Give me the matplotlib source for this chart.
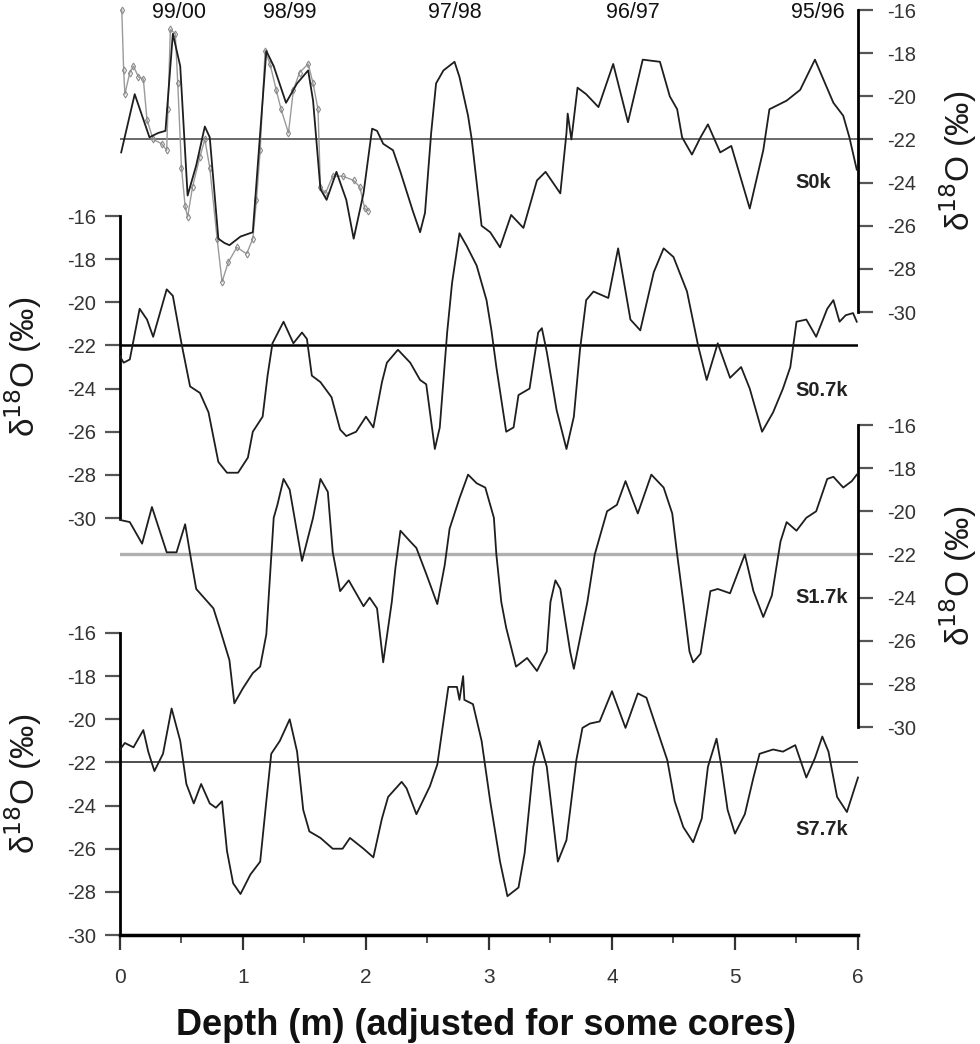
import matplotlib
matplotlib.use('Agg')
import matplotlib.pyplot as plt
from matplotlib.ticker import MultipleLocator

plt.rcParams['font.family'] = ['Liberation Sans', 'DejaVu Sans']
plt.rcParams['axes.unicode_minus'] = False

# ---- data (depth in m, d18O in permil) ----
depth_s0k = [0.01, 0.12, 0.24, 0.31, 0.37, 0.43, 0.49, 0.55, 0.62, 0.69,
             0.73, 0.80, 0.85, 0.89, 0.98, 1.03, 1.08, 1.14, 1.19, 1.25,
             1.35, 1.44, 1.53, 1.57, 1.63, 1.68, 1.76, 1.84, 1.90, 1.98,
             2.05, 2.09, 2.14, 2.22, 2.28, 2.38, 2.44, 2.48, 2.53, 2.57,
             2.63, 2.72, 2.76, 2.83, 2.86, 2.94, 3.01, 3.09, 3.18, 3.28,
             3.39, 3.46, 3.58, 3.63, 3.64, 3.67, 3.72, 3.79, 3.89, 4.01,
             4.13, 4.25, 4.39, 4.47, 4.53, 4.57, 4.65, 4.72, 4.78, 4.88,
             4.97, 5.12, 5.23, 5.28, 5.42, 5.53, 5.65, 5.80, 5.88, 5.93,
             5.99]
d18o_s0k = [-22.6, -19.9, -21.9, -21.7, -21.6, -17.1, -18.6, -24.6, -23.2, -21.4,
            -21.9, -26.6, -26.8, -26.9, -26.5, -26.4, -26.3, -21.7, -17.9, -18.6,
            -20.3, -19.4, -18.8, -20.2, -24.3, -24.8, -23.5, -24.8, -26.6, -24.5,
            -21.5, -21.6, -22.2, -22.5, -23.5, -25.3, -26.3, -25.4, -21.7, -19.4,
            -18.8, -18.4, -19.1, -20.9, -22.0, -26.0, -26.3, -27.0, -25.5, -26.1,
            -23.9, -23.5, -24.5, -21.7, -20.8, -22.0, -19.6, -19.9, -20.5, -18.5,
            -21.2, -18.3, -18.4, -20.0, -20.6, -21.9, -22.7, -21.9, -21.3, -22.6,
            -22.3, -25.2, -22.5, -20.6, -20.2, -19.7, -18.3, -20.3, -20.9, -21.9,
            -23.4]

depth_s0k_b = [0.015, 0.03, 0.04, 0.08, 0.11, 0.15, 0.19, 0.22, 0.27, 0.34,
               0.38, 0.39, 0.41, 0.45, 0.47, 0.50, 0.53, 0.55, 0.59, 0.65,
               0.69, 0.73, 0.79, 0.83, 0.88, 0.95, 1.03, 1.08, 1.11, 1.14,
               1.18, 1.22, 1.27, 1.31, 1.37, 1.41, 1.46, 1.53, 1.57, 1.61,
               1.63, 1.67, 1.73, 1.81, 1.90, 1.95, 1.99, 2.02]
d18o_s0k_b = [-16.0, -18.8, -19.9, -18.9, -18.6, -19.1, -19.2, -21.1, -22.0, -22.2,
              -22.5, -20.6, -16.9, -17.1, -19.4, -23.3, -25.1, -25.6, -24.2, -22.8,
              -22.0, -23.3, -26.6, -28.6, -27.7, -27.0, -27.3, -26.6, -24.8, -22.5,
              -17.9, -18.5, -19.7, -20.6, -21.7, -19.7, -18.9, -18.5, -19.4, -20.6,
              -24.2, -24.5, -23.7, -23.7, -23.9, -24.2, -25.2, -25.3]

depth_s07k = [0.00, 0.03, 0.08, 0.16, 0.22, 0.27, 0.38, 0.43, 0.50, 0.57,
              0.65, 0.72, 0.80, 0.87, 0.96, 1.04, 1.08, 1.16, 1.20, 1.24,
              1.33, 1.41, 1.48, 1.52, 1.56, 1.63, 1.72, 1.79, 1.84, 1.92,
              2.00, 2.06, 2.13, 2.17, 2.26, 2.36, 2.44, 2.49, 2.56, 2.60,
              2.66, 2.70, 2.76, 2.82, 2.90, 2.98, 3.02, 3.06, 3.14, 3.20,
              3.24, 3.33, 3.37, 3.40, 3.43, 3.47, 3.55, 3.63, 3.69, 3.74,
              3.79, 3.85, 3.97, 4.05, 4.15, 4.23, 4.34, 4.42, 4.50, 4.61,
              4.70, 4.77, 4.86, 4.96, 5.05, 5.12, 5.22, 5.31, 5.39, 5.45,
              5.50, 5.58, 5.66, 5.75, 5.80, 5.85, 5.90, 5.96, 5.99]
d18o_s07k = [-22.5, -22.8, -22.65, -20.3, -20.8, -21.6, -19.4, -19.7, -21.9, -23.9,
             -24.2, -25.1, -27.4, -27.9, -27.9, -27.2, -26.0, -25.3, -23.4, -21.9,
             -20.9, -21.9, -21.4, -21.7, -23.4, -23.7, -24.4, -25.9, -26.2, -26.0,
             -25.3, -25.8, -23.7, -22.8, -22.2, -22.8, -23.6, -23.8, -26.8, -25.8,
             -21.4, -19.1, -16.8, -17.4, -18.3, -19.9, -21.3, -23.0, -26.0, -25.8,
             -24.3, -24.0, -22.5, -21.4, -21.2, -22.3, -25.0, -26.8, -25.3, -22.2,
             -19.9, -19.5, -19.8, -17.5, -20.8, -21.3, -18.6, -17.5, -17.9, -19.5,
             -22.0, -23.6, -21.9, -23.5, -23.0, -24.0, -26.0, -25.1, -24.0, -23.0,
             -20.9, -20.8, -21.6, -20.3, -19.9, -20.9, -20.6, -20.5, -20.9]

depth_s17k = [0.00, 0.08, 0.18, 0.26, 0.38, 0.46, 0.53, 0.58, 0.62, 0.76,
              0.81, 0.89, 0.93, 1.00, 1.08, 1.14, 1.19, 1.25, 1.28, 1.33,
              1.38, 1.48, 1.57, 1.63, 1.69, 1.73, 1.79, 1.86, 1.98, 2.03,
              2.09, 2.14, 2.21, 2.24, 2.28, 2.36, 2.41, 2.49, 2.58, 2.64,
              2.68, 2.76, 2.83, 2.90, 2.97, 3.04, 3.06, 3.10, 3.14, 3.22,
              3.31, 3.39, 3.47, 3.50, 3.54, 3.58, 3.66, 3.69, 3.80, 3.86,
              3.96, 4.04, 4.11, 4.21, 4.32, 4.42, 4.49, 4.53, 4.58, 4.63,
              4.66, 4.72, 4.80, 4.86, 4.96, 5.08, 5.15, 5.23, 5.30, 5.37,
              5.42, 5.50, 5.58, 5.66, 5.75, 5.80, 5.88, 5.95, 5.99]
d18o_s17k = [-20.4, -20.5, -21.5, -19.8, -21.9, -21.9, -20.6, -22.3, -23.6, -24.5,
             -25.4, -26.9, -28.9, -28.2, -27.5, -27.2, -25.7, -20.3, -19.7, -18.5,
             -19.0, -22.3, -20.3, -18.5, -19.1, -21.9, -23.7, -23.2, -24.4, -24.0,
             -24.5, -27.0, -24.2, -22.6, -20.9, -21.4, -21.7, -22.9, -24.3, -22.5,
             -20.8, -19.4, -18.3, -18.7, -18.9, -20.3, -22.0, -24.2, -25.4, -27.2,
             -26.8, -27.4, -26.5, -24.2, -23.2, -23.6, -26.5, -27.3, -24.2, -22.0,
             -20.0, -19.7, -18.6, -20.1, -18.3, -18.9, -20.1, -22.0, -24.2, -26.5,
             -27.0, -26.6, -23.7, -23.6, -23.8, -22.0, -23.7, -24.9, -23.9, -21.4,
             -20.5, -20.9, -20.3, -20.0, -18.5, -18.4, -18.9, -18.6, -18.3]

depth_s77k = [0.00, 0.04, 0.11, 0.19, 0.23, 0.28, 0.35, 0.42, 0.49, 0.54,
              0.60, 0.66, 0.73, 0.78, 0.83, 0.87, 0.92, 0.98, 1.06, 1.14,
              1.19, 1.23, 1.30, 1.38, 1.44, 1.49, 1.54, 1.63, 1.73, 1.81,
              1.87, 1.98, 2.06, 2.13, 2.18, 2.29, 2.33, 2.41, 2.52, 2.58,
              2.67, 2.74, 2.76, 2.79, 2.80, 2.87, 2.94, 3.01, 3.09, 3.15,
              3.24, 3.29, 3.36, 3.41, 3.47, 3.56, 3.63, 3.71, 3.76, 3.82,
              3.90, 4.00, 4.11, 4.21, 4.28, 4.45, 4.51, 4.58, 4.66, 4.73,
              4.78, 4.85, 4.89, 4.94, 5.00, 5.08, 5.15, 5.20, 5.31, 5.39,
              5.49, 5.58, 5.65, 5.71, 5.76, 5.83, 5.91, 6.00]
d18o_s77k = [-21.4, -21.1, -21.3, -20.5, -21.5, -22.4, -21.6, -19.5, -21.0, -23.0,
             -23.9, -23.0, -23.9, -24.1, -23.8, -26.1, -27.6, -28.1, -27.2, -26.6,
             -23.8, -21.6, -21.0, -20.0, -21.5, -24.2, -25.2, -25.5, -26.0, -26.0,
             -25.5, -26.0, -26.4, -24.6, -23.6, -22.9, -23.2, -24.4, -23.1, -22.1,
             -18.5, -18.5, -19.1, -18.0, -19.1, -19.3, -21.0, -23.8, -26.6, -28.2,
             -27.8, -26.2, -22.2, -21.0, -22.2, -26.6, -25.6, -21.9, -20.4, -20.2,
             -20.1, -18.7, -20.4, -18.8, -19.0, -21.9, -23.8, -25.0, -25.7, -24.6,
             -22.2, -20.9, -22.2, -24.2, -25.3, -24.4, -22.7, -21.6, -21.4, -21.5,
             -21.2, -22.7, -21.8, -20.8, -21.5, -23.6, -24.3, -22.7]

year_labels = ['99/00', '98/99', '97/98', '96/97', '95/96']
year_depths = [0.48, 1.38, 2.72, 4.17, 5.67]

core_names = ['S0k', 'S0.7k', 'S1.7k', 'S7.7k']
core_label_y = [-24.0, -24.1, -24.0, -25.1]
mean_value = -22.0

fig = plt.figure(figsize=(9.8, 10.44), dpi=100)

# panel layout (figure fractions), axis side, colour/width of the mean line
panels = [
    (0.7011, 'right', '#505050', 1.2),
    (0.5038, 'left', '#000000', 1.8),
    (0.3036, 'right', '#b0b0b0', 2.4),
    (0.1044, 'left', '#404040', 1.3),
]
series = [(depth_s0k, d18o_s0k), (depth_s07k, d18o_s07k),
          (depth_s17k, d18o_s17k), (depth_s77k, d18o_s77k)]

axes = []
for i, (bottom, side, hcol, hlw) in enumerate(panels):
    ax = fig.add_axes([0.1224, bottom, 0.7531, 0.2893])
    ax.set_xlim(0, 6)
    ax.set_ylim(-30, -16)
    ax.patch.set_visible(False)
    for s in ax.spines.values():
        s.set_visible(False)
    ax.spines[side].set_visible(True)
    ax.spines[side].set_linewidth(2.0)
    ax.yaxis.set_major_locator(MultipleLocator(2))
    if side == 'right':
        ax.yaxis.tick_right()
        ax.yaxis.set_label_position('right')
        pad = 10
        lx = 1.136
    else:
        ax.yaxis.tick_left()
        pad = 6
        lx = -0.131
    ax.tick_params(axis='y', direction='out', length=11, width=1.6,
                   color='#555555', labelcolor='#333333', labelsize=14.5, pad=pad)
    ax.set_ylabel('δ$^{18}$O (‰)', fontsize=24, color='#1a1a1a')
    ax.yaxis.label.set_va('center')
    ax.yaxis.set_label_coords(lx, 0.5)

    ax.axhline(mean_value, color=hcol, lw=hlw, zorder=1)
    d, v = series[i]
    ax.plot(d, v, color='#1e1e1e', lw=1.3, clip_on=False, zorder=3)
    ax.text(5.49, core_label_y[i], core_names[i], fontsize=14.5,
            fontweight='bold', va='center', ha='left', color='#222222')
    if i < 3:
        ax.set_xticks([])
    axes.append(ax)

# second, gray record in the top panel
axes[0].plot(depth_s0k_b, d18o_s0k_b, color='#9a9a9a', lw=1.0, marker='d',
             ms=3.5, mfc='none', mec='#8a8a8a', mew=0.8, clip_on=False, zorder=2)

for name, dpos in zip(year_labels, year_depths):
    axes[0].text(dpos, -16.1, name, fontsize=15.5, ha='center', va='center',
                 color='#111111', clip_on=False)

# bottom depth axis
axb = axes[3]
axb.spines['bottom'].set_visible(True)
axb.spines['bottom'].set_linewidth(2.5)
axb.xaxis.set_major_locator(MultipleLocator(1))
axb.xaxis.set_minor_locator(MultipleLocator(0.5))
axb.tick_params(axis='x', which='major', direction='out', length=11, width=1.6,
                color='#333333', labelcolor='#333333', labelsize=15, pad=13)
axb.tick_params(axis='x', which='minor', direction='out', length=6, width=1.4,
                color='#555555')

fig.text(0.496, 0.018, 'Depth (m) (adjusted for some cores)', fontsize=26,
         fontweight='bold', ha='center', va='center', color='#111111')

fig.savefig('out.png', dpi=100)
